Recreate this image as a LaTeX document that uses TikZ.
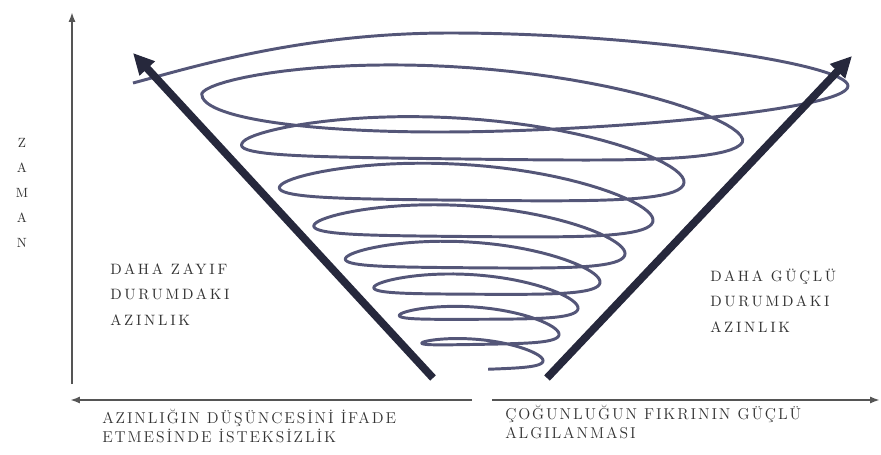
\documentclass[tikz,border=0pt]{standalone}
\usepackage{fontspec}
\newfontfamily\midfont[LetterSpace=18]{Latin Modern Roman}
\newfontfamily\axfont[LetterSpace=12]{Latin Modern Roman}
\usetikzlibrary{arrows.meta}

\definecolor{spiralblue}{RGB}{84,86,120}
\definecolor{conenavy}{RGB}{38,40,60}
\definecolor{axisgray}{RGB}{85,85,85}
\definecolor{labelgray}{RGB}{50,50,50}

\tikzset{
  spiral/.style={spiralblue, line width=2.1pt, line join=round},
  cone/.style={conenavy, line width=5.5pt, -{Triangle[length=15pt,width=14pt]}},
  axis/.style={axisgray, line width=1.5pt, -{Latex[length=7pt,width=5pt]}},
  sidelabel/.style={labelgray, inner sep=0pt, anchor=base west, align=left,
    font=\midfont\fontsize{10.67pt}{17.9pt}\selectfont},
  axislabel/.style={labelgray, inner sep=0pt, anchor=base west, align=left,
    font=\axfont\fontsize{11.2pt}{12.9pt}\selectfont}
}

\begin{document}
\begin{tikzpicture}[x=0.025cm,y=-0.025cm,
  declare function={
    loopwidth(\t)=40+14*\t+1.5*\t*\t+25*max(1-2*abs(\t-8),0);
    loopmid(\t)=386-27*\t-2.5*max(\t-4,0)^2;
    loopy(\t)=loopmid(\t)+0.04*loopwidth(\t)*cos(360*\t)
      -(3.5+3.75*\t)*sin(360*\t)-(1.5+1.75*\t)*sin(360*\t)^2;}]
  \useasboundingbox (0,0) rectangle (881,454);

  % spiral (inner turns), then the wide outer turn
  \draw[spiral] plot[variable=\t,domain=0.75:8.5,samples=640]
      ({490-2.5*\t+loopwidth(\t)*cos(360*\t)},{loopy(\t)})
    .. controls (201,117) and (300,132) .. (440,132)
    .. controls (600,132) and (848,110) .. (848,86)
    .. controls (848,64) and (640,33) .. (450,33)
    .. controls (300,33) and (190,68) .. (133,83);

  % cone arrows
  \coordinate (lfoot) at (433,378);
  \coordinate (ltip) at (133,53);
  \coordinate (rfoot) at (547,378);
  \coordinate (rtip) at (852,56);
  \draw[cone] (lfoot) -- (ltip);
  \draw[cone] (rfoot) -- (rtip);

  % axes
  \coordinate (ybot) at (72,384);
  \coordinate (ytop) at (72,12);
  \coordinate (xleft) at (70,400);
  \coordinate (xmidl) at (472,400);
  \coordinate (xmidr) at (492,400);
  \coordinate (xright) at (880,400);
  \draw[axis] (ybot) -- (ytop);
  \draw[axis] (xmidl) -- (xleft);
  \draw[axis] (xmidr) -- (xright);

  % labels
  \node[labelgray, align=center, font=\fontsize{9.5pt}{17.8pt}\selectfont]
    (zaman) at (22,193) {Z\\A\\M\\A\\N};
  \node[sidelabel] (weak) at (110,325) {DAHA ZAYIF\\DURUMDAKI\\AZINLIK};
  \node[sidelabel] (strong) at (710,332) {DAHA GÜÇLÜ\\DURUMDAKI\\AZINLIK};
  \node[axislabel] (reluct) at (102,442) {AZINLIĞIN DÜŞÜNCESİNİ İFADE\\ETMESİNDE İSTEKSİZLİK};
  \node[axislabel] (major) at (505,438) {ÇOĞUNLUĞUN FIKRININ GÜÇLÜ\\ALGILANMASI};
\end{tikzpicture}
\end{document}
